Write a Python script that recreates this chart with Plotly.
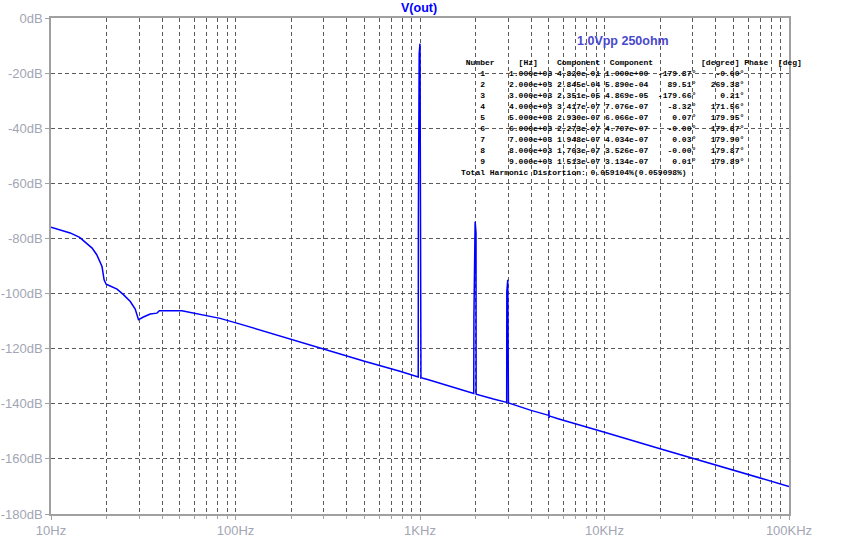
import plotly.graph_objects as go

# ---- data ----
floor_hz = [10, 11.2, 12.7, 14.3, 16.7, 17.7, 18.9, 19.4, 19.9, 20.5, 22.8, 24.7, 26.9, 28.6,
            29.8, 31.7, 34.5, 37.5, 38.7, 51.2, 59.2, 69.9, 82.5, 105, 200, 500, 778,
            1100, 1500, 2500, 4000, 5600, 7000, 10000, 20000, 50000, 100000]
floor_db = [-75.9, -76.8, -78.0, -79.6, -83.5, -85.9, -90.2, -95.0, -96.6, -97.0, -98.4, -100.4,
            -102.9, -105.6, -109.5, -108.5, -107.4, -107.1, -106.2, -106.2, -107.1, -108.1,
            -109.0, -111.0, -116.7, -124.6, -128.2, -131.2, -133.9, -138.3, -142.4, -145.4,
            -147.2, -150.3, -156.3, -164.2, -170.0]

# harmonic spikes (1 kHz fundamental, 2 kHz, 3 kHz, small blip at 5 kHz)
spike_hz = [978, 980, 990, 1000, 1003, 1010, 1012,
            1956, 1960, 1990, 2012, 2015,
            2950, 2955, 2990, 3015,
            4990, 5000, 5005, 5015]
spike_db = [-130.3, -73.0, -13.0, -9.3, -73.0, -73.0, -130.5,
            -136.3, -108.4, -73.9, -78.0, -136.5,
            -139.5, -99.3, -95.0, -139.7,
            -144.2, -142.4, -145.2, -144.4]

x_tick_vals = [10, 100, 1000, 10000, 100000]
x_tick_text = ["10Hz", "100Hz", "1KHz", "10KHz", "100KHz"]
y_tick_vals = list(range(0, -181, -20))
y_tick_text = [f"{v}dB" for v in y_tick_vals]

table_header = [("Number", 1), ("[Hz]", 12), ("Component", 20), ("Component", 31),
                ("[degree]", 50), ("Phase", 59), ("[deg]", 66)]
harm_num = [1, 2, 3, 4, 5, 6, 7, 8, 9]
harm_freq = ["1.000e+03", "2.000e+03", "3.000e+03", "4.000e+03", "5.000e+03",
             "6.000e+03", "7.000e+03", "8.000e+03", "9.000e+03"]
harm_comp = ["4.820e-01", "2.845e-04", "2.351e-05", "3.417e-07", "2.930e-07",
             "2.273e-07", "1.948e-07", "1.703e-07", "1.513e-07"]
harm_norm = ["1.000e+00", "5.890e-04", "4.869e-05", "7.076e-07", "6.066e-07",
             "4.707e-07", "4.034e-07", "3.526e-07", "3.134e-07"]
harm_phase = ["-179.87°", "89.51°", "-179.66°", "-8.32°", "0.07°",
              "-0.00°", "0.03°", "-0.00°", "0.01°"]
harm_nphase = ["-0.00°", "269.38°", "0.21°", "171.56°", "179.95°",
               "179.87°", "179.90°", "179.87°", "179.89°"]
thd_text = "Total Harmonic Distortion: 0.059104%(0.059098%)"

# ---- build trace ----
pts = sorted(zip(floor_hz + spike_hz, floor_db + spike_db))
xs = [p[0] for p in pts]
ys = [p[1] for p in pts]

fig = go.Figure()
fig.add_trace(go.Scatter(x=xs, y=ys, mode="lines",
                         line=dict(color="#0000ff", width=1.5), showlegend=False,
                         hoverinfo="skip"))

minor_vals = [k * 10 ** d for d in range(1, 5) for k in range(2, 10)]
grid_col = "#5a5a5a"
axis_col = "#a0a0a0"
tick_font = dict(family="Arial, Liberation Sans", size=13, color="#a2a6b4")

fig.update_layout(
    width=847, height=540,
    margin=dict(l=51, r=58, t=18, b=26, autoexpand=False),
    paper_bgcolor="white", plot_bgcolor="white",
    xaxis=dict(type="log", range=[1, 5], tickvals=x_tick_vals, ticktext=x_tick_text,
               showgrid=True, gridcolor=grid_col, griddash="4px,3px", gridwidth=1,
               minor=dict(tickvals=minor_vals, showgrid=True, gridcolor=grid_col,
                          griddash="4px,3px", gridwidth=1, ticks="outside", ticklen=3,
                          tickcolor=axis_col),
               showline=True, mirror=True, linecolor=axis_col, linewidth=1.5,
               ticks="outside", ticklen=4, tickcolor=axis_col, tickfont=tick_font,
               zeroline=False, automargin=False),
    yaxis=dict(range=[-180, 0], tickvals=y_tick_vals, ticktext=y_tick_text,
               showgrid=True, gridcolor=grid_col, griddash="4px,3px", gridwidth=1,
               showline=True, mirror=True, linecolor=axis_col, linewidth=1.5,
               ticks="outside", ticklen=4, tickcolor=axis_col, tickfont=tick_font,
               zeroline=False, automargin=False),
)

# helpers to convert reference pixel positions to paper coordinates
PX0, PX1, PY0, PY1 = 50.7, 789.3, 18.3, 514.0
def px(x):
    return (x - PX0) / (PX1 - PX0)
def py(y):
    return 1 - (y - PY0) / (PY1 - PY0)

# title
fig.add_annotation(text="<b>V(out)</b>", xref="paper", yref="paper", x=px(418.7), y=py(8),
                   showarrow=False, xanchor="center", yanchor="middle",
                   font=dict(family="Arial, Liberation Sans", size=12.5, color="#0000ff"))
fig.add_annotation(text="<b>1.0Vpp 250ohm</b>", xref="paper", yref="paper", x=px(623.5),
                   y=py(41.7), showarrow=False, xanchor="center", yanchor="middle",
                   font=dict(family="Arial, Liberation Sans", size=12.5, color="#4848cc"))

# table
def place(items, width=71):
    buf = [" "] * width
    for s, c in items:
        for i, ch in enumerate(s):
            if c + i < width:
                buf[c + i] = ch
    return "".join(buf).rstrip().replace(" ", "\u00a0")

rows = [place(table_header)]
for n, f, c1, c2, p1, p2 in zip(harm_num, harm_freq, harm_comp, harm_norm, harm_phase, harm_nphase):
    rows.append(place([(str(n), 4), (f, 10), (c1, 20), (c2, 30),
                       (p1, 49 - len(p1)), (p2, 59 - len(p2))]))
rows.append(place([(thd_text, 0)]))

row_y = [62.7] + [74 + 10.96 * i for i in range(9)] + [172.6]
mono = dict(family="Liberation Mono, Courier New, monospace", size=8, color="#000000",
            weight="bold")
for txt, yy in zip(rows, row_y):
    fig.add_annotation(text=txt, xref="paper", yref="paper", x=px(459.3), y=py(yy),
                       showarrow=False, xanchor="left", yanchor="middle", font=mono)

fig.write_html("out.html", config={"displayModeBar": False},
               post_script="document.body.style.margin='0';document.body.style.overflow='hidden';")
